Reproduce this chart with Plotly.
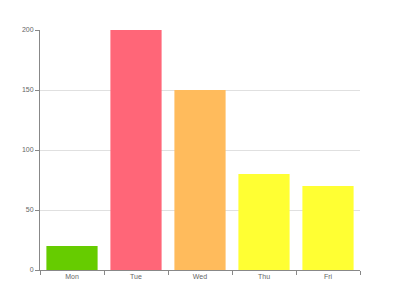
import plotly.graph_objects as go

days = ["Mon", "Tue", "Wed", "Thu", "Fri"]
values = [20, 200, 150, 80, 70]
colors = ["#66CC00", "#FF6678", "#FFBB5C", "#FFFF33", "#FFFF33"]

fig = go.Figure(go.Bar(x=days, y=values, marker=dict(color=colors, line=dict(width=0))))

fig.update_layout(
    width=400, height=300,
    margin=dict(l=40, r=40, t=30, b=30),
    paper_bgcolor="white", plot_bgcolor="white",
    bargap=0.2, showlegend=False,
    font=dict(family="Liberation Sans", size=7, color="#666666"),
)
fig.update_xaxes(
    showline=True, linecolor="#888888", linewidth=1,
    ticks="outside", tickson="boundaries", ticklen=4, tickcolor="#888888",
    showgrid=False, zeroline=False,
)
fig.update_yaxes(
    range=[0, 200], tickvals=[0, 50, 100, 150, 200],
    showline=True, linecolor="#888888", linewidth=1,
    ticks="outside", ticklen=4, tickcolor="#888888",
    showgrid=True, gridcolor="#E0E0E0", zeroline=False,
)
fig.write_html("out.html")
